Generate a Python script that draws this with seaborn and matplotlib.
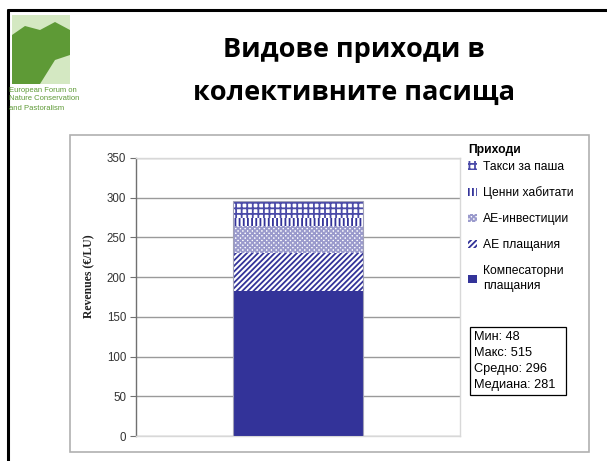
import numpy as np
import pandas as pd
import seaborn as sns
import matplotlib.pyplot as plt
from matplotlib.patches import Patch, Rectangle, Polygon
from matplotlib.lines import Line2D

# Data (bottom to top)
categories = ['Компесаторни\nплащания', 'АЕ плащания', 'АЕ-инвестиции', 'Ценни хабитати', 'Такси за паша']
values = [182, 49, 33, 10, 22]
hatches = ['', '//////', 'xxxxxxx', '||||', '+++']
hatch_colors = ['#333399', '#333399', '#9a9acc', '#333399', '#4a4aa8']
stats_labels = ['Мин', 'Макс', 'Средно', 'Медиана']
stats_values = [48, 515, 296, 281]
yticks = [0, 50, 100, 150, 200, 250, 300, 350]

blue = '#333399'

sns.set_theme(style='white')
plt.rcParams['font.family'] = ['Liberation Sans', 'DejaVu Sans']
plt.rcParams['hatch.linewidth'] = 1.3
plt.rcParams['text.color'] = 'black'

fig = plt.figure(figsize=(6.07, 4.61), dpi=100)
W, H = 607, 461

def fx(px):
    return px / W

def fy(py):
    return 1 - py / H

# slide frame (top and left black lines)
fig.add_artist(Line2D([fx(8), 1], [fy(10), fy(10)], color='black', lw=2.2))
fig.add_artist(Line2D([fx(8), fx(8)], [0, fy(10)], color='black', lw=2.2))

# logo placeholder
fig.add_artist(Rectangle((fx(12), fy(84)), fx(58), (84 - 15) / H, color='#5e9a36', lw=0))
fig.add_artist(Polygon([(fx(40), fy(84)), (fx(70), fy(84)), (fx(70), fy(55)), (fx(55), fy(60))],
                       color='#d4e8c2', lw=0))
fig.add_artist(Polygon([(fx(12), fy(35)), (fx(25), fy(26)), (fx(40), fy(30)), (fx(55), fy(22)), (fx(70), fy(30)),
                        (fx(70), fy(15)), (fx(12), fy(15))], color='#d4e8c2', lw=0))
for i, line in enumerate(['European Forum on', 'Nature Conservation', 'and Pastoralism']):
    fig.text(fx(9), fy(90 + i * 9), line, fontsize=5.5, color='#5e9a36', va='center', ha='left')

# title
fig.text(fx(354), fy(50), 'Видове приходи в', fontsize=19.5, fontweight='bold', color='black',
         family=['Open Sans', 'DejaVu Sans'], ha='center', va='center')
fig.text(fx(354), fy(93), 'колективните пасища', fontsize=19.5, fontweight='bold', color='black',
         family=['Open Sans', 'DejaVu Sans'], ha='center', va='center')

# chart area box
fig.add_artist(Rectangle((fx(70), fy(452)), fx(589 - 70), (452 - 135) / H, fill=False,
                         edgecolor='#b0b0b0', lw=1.2))

ax = fig.add_axes([fx(136), fy(436), fx(460 - 136), (436 - 158) / H])

# stacked bar: draw cumulative totals from the top down
cum = np.cumsum(values)
df = pd.DataFrame({'x': [''] * len(values), 'total': cum, 'cat': categories})
for i in range(len(values) - 1, -1, -1):
    row = df.iloc[[i]]
    if hatches[i]:
        sns.barplot(data=row, x='x', y='total', ax=ax, width=0.4, color='white', saturation=1,
                    edgecolor=hatch_colors[i], hatch=hatches[i], linewidth=0, zorder=3)
    else:
        sns.barplot(data=row, x='x', y='total', ax=ax, width=0.4, color=blue, saturation=1,
                    edgecolor=blue, linewidth=0, zorder=3)
# thin outline on top
ax.bar(0, cum[-1], width=0.4, fill=False, edgecolor='#a0a0b8', lw=0.8, zorder=4)

ax.set_ylim(0, 350)
ax.set_xlim(-0.5, 0.5)
ax.set_yticks(yticks)
ax.set_xticks([])
ax.set_xlabel('')
ax.yaxis.grid(True, color='#9a9a9a', lw=1)
ax.set_axisbelow(True)
for s in ['top', 'right', 'bottom']:
    ax.spines[s].set_color('#d8d8d8')
    ax.spines[s].set_linewidth(1)
ax.spines['left'].set_color('#707070')
ax.spines['left'].set_linewidth(1)
ax.tick_params(axis='y', left=True, length=4, width=0.8, color='#707070',
               labelsize=8.3, labelcolor='#333333', pad=3)
ax.set_ylabel('Revenues (€/LU)', family=['Liberation Serif', 'DejaVu Serif'],
              fontweight='bold', fontsize=8.5, color='#222222')
ax.yaxis.set_label_coords(-0.125, 0.575)

# legend
handles = []
for i in range(len(values) - 1, -1, -1):
    if hatches[i]:
        handles.append(Patch(facecolor='white', edgecolor=hatch_colors[i], hatch=hatches[i], lw=0))
    else:
        handles.append(Patch(facecolor=blue, edgecolor=blue, lw=0))
leg = fig.legend(handles, categories[::-1], loc='upper left', bbox_to_anchor=(fx(466), fy(142)),
                 frameon=False, fontsize=8.7, title='Приходи', title_fontsize=8.7,
                 handlelength=0.7, handleheight=0.7, handletextpad=0.5, labelspacing=1.15,
                 alignment='left', borderaxespad=0, borderpad=0.2)
leg.get_title().set_fontweight('bold')
leg._legend_box.sep = 3
for t in leg.get_texts():
    t.set_linespacing(1.35)

# stats box
stats_text = '\n'.join(f'{l}: {v}' for l, v in zip(stats_labels, stats_values))
fig.text(fx(474), fy(361), stats_text + '  ', fontsize=9.2, va='center', ha='left', linespacing=1.45,
         bbox=dict(boxstyle='square,pad=0.3', facecolor='white', edgecolor='black', lw=0.9))

fig.savefig('out.png', dpi=100)
